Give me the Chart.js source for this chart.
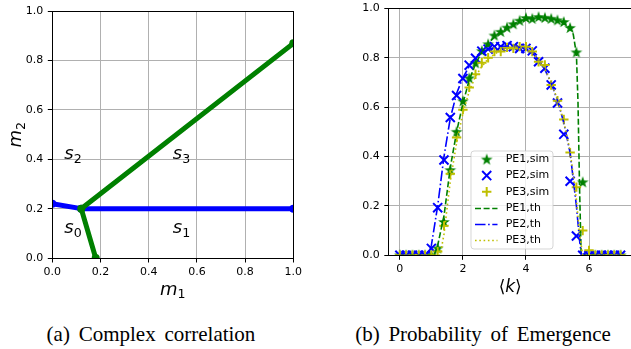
<!DOCTYPE html>
<html lang="en">
<head>
<meta charset="UTF-8">
<title>Complex correlation / Probability of Emergence</title>
<script src="https://cdn.jsdelivr.net/npm/chart.js"></script>
<style>
  html, body { margin: 0; padding: 0; overflow: hidden; background: #fff; width: 631px; height: 349px; }
  #left { position: absolute; left: 0; top: 0; }
  #right { position: absolute; left: 330px; top: 0; }
  .caption {
    position: absolute; top: 324px; line-height: 21px;
    font-family: "Liberation Serif", "Times New Roman", serif; font-size: 21px;
    word-spacing: 3.5px; color: #000; white-space: nowrap; transform: translateX(-50%);
  }
</style>
</head>
<body>
<canvas id="left" width="320" height="300"></canvas>
<canvas id="right" width="310" height="300"></canvas>
<div class="caption" style="left:151px">(a) Complex correlation</div>
<div class="caption" style="left:483px">(b) Probability of Emergence</div>

<script>
// ---- (a) region boundaries ----
const blueM1 = [0, 0.12, 1.0];
const blueM2 = [0.22, 0.2, 0.2];
const greenM1 = [0.18, 0.12, 1.0];
const greenM2 = [0, 0.2, 0.87];
const unitTicks = [0, 0.2, 0.4, 0.6, 0.8, 1.0];
const regionNames = ['0', '1', '2', '3'];
const regionM1 = [0.05, 0.5, 0.05, 0.5];
const regionM2 = [0.1, 0.1, 0.4, 0.4];

// ---- (b) probability of emergence ----
const kSim = [0, 0.2, 0.4, 0.6, 0.8, 1.0, 1.2, 1.4, 1.6, 1.8, 2.0, 2.2, 2.4, 2.6, 2.8, 3.0, 3.2, 3.4,
              3.6, 3.8, 4.0, 4.2, 4.4, 4.6, 4.8, 5.0, 5.2, 5.4, 5.6, 5.8, 6.0, 6.2, 6.4, 6.6, 6.8, 7.0];
const pe1Sim = [0, 0, 0, 0, 0, 0, 0.028, 0.135, 0.345, 0.50, 0.624, 0.717, 0.778, 0.827, 0.855, 0.89, 0.905, 0.922,
                0.936, 0.95, 0.961, 0.958, 0.965, 0.962, 0.958, 0.952, 0.945, 0.921, 0.822, 0.296, 0, 0, 0, 0, 0, 0];
const pe2Sim = [0, 0, 0, 0, 0, 0.028, 0.193, 0.386, 0.558, 0.647, 0.716, 0.77, 0.798, 0.827, 0.835, 0.845, 0.845, 0.849,
                0.845, 0.838, 0.838, 0.828, 0.784, 0.758, 0.69, 0.617, 0.49, 0.30, 0.078, 0, 0, 0, 0, 0, 0, 0];
const pe3Sim = [0, 0, 0, 0, 0, 0, 0.015, 0.12, 0.33, 0.477, 0.59, 0.68, 0.733, 0.78, 0.80, 0.825, 0.825, 0.842,
                0.838, 0.845, 0.845, 0.825, 0.784, 0.771, 0.69, 0.626, 0.55, 0.416, 0.276, 0.10, 0.02, 0, 0, 0, 0, 0];

const kTh1 = [0, 1.0, 1.1, 1.2, 1.4, 1.6, 1.8, 2.0, 2.2, 2.4, 2.6, 2.8, 3.0, 3.2, 3.4, 3.6, 3.8, 4.0,
              4.2, 4.4, 4.6, 4.8, 5.0, 5.2, 5.4, 5.5, 5.6, 5.65, 5.7, 5.75, 7.0];
const pe1Th = [0, 0, 0.005, 0.04, 0.16, 0.355, 0.5, 0.615, 0.71, 0.775, 0.823, 0.858, 0.885, 0.905, 0.922, 0.936, 0.948, 0.956,
               0.961, 0.963, 0.963, 0.96, 0.953, 0.942, 0.922, 0.895, 0.815, 0.62, 0.27, 0, 0];
const kTh2 = [0, 0.9, 1.0, 1.2, 1.4, 1.6, 1.8, 2.0, 2.2, 2.4, 2.6, 2.8, 3.0, 3.2, 3.4, 3.6, 3.8, 4.0,
              4.2, 4.4, 4.6, 4.8, 5.0, 5.2, 5.4, 5.6, 5.7, 5.76, 7.0];
const pe2Th = [0, 0, 0.04, 0.2, 0.4, 0.555, 0.655, 0.72, 0.765, 0.798, 0.82, 0.834, 0.842, 0.847, 0.848, 0.847, 0.843, 0.836,
               0.82, 0.792, 0.752, 0.698, 0.627, 0.537, 0.415, 0.2, 0.06, 0, 0];
const kTh3 = [0, 1.25, 1.3, 1.4, 1.6, 1.8, 2.0, 2.2, 2.4, 2.6, 2.8, 3.0, 3.2, 3.4, 3.6, 3.8, 4.0,
              4.2, 4.4, 4.6, 4.8, 5.0, 5.2, 5.4, 5.6, 5.7, 5.8, 7.0];
const pe3Th = [0, 0, 0.015, 0.085, 0.3, 0.455, 0.575, 0.665, 0.725, 0.765, 0.795, 0.815, 0.83, 0.838, 0.842, 0.842, 0.836,
               0.82, 0.792, 0.754, 0.7, 0.63, 0.542, 0.422, 0.225, 0.085, 0, 0];
const kTicks = [0, 2, 4, 6];
const seriesLabels = ['PE1,sim', 'PE2,sim', 'PE3,sim', 'PE1,th', 'PE2,th', 'PE3,th'];

const GREEN = '#008000', BLUE = '#0000ff', YELLOW = '#bfbf00';
const pts = (xs, ys) => xs.map((x, i) => ({ x: x, y: ys[i] }));

Chart.defaults.font.family = '"DejaVu Sans", sans-serif';
Chart.defaults.animation = false;

// filled 5-point star like matplotlib '*'
const star = (() => {
  const c = document.createElement('canvas');
  c.width = 14; c.height = 14;
  const g = c.getContext('2d');
  g.fillStyle = GREEN;
  g.beginPath();
  for (let i = 0; i < 10; i++) {
    const r = i % 2 ? 2.4 : 6.2;
    const a = -Math.PI / 2 + i * Math.PI / 5;
    g.lineTo(7 + r * Math.cos(a), 7.3 + r * Math.sin(a));
  }
  g.closePath();
  g.fill();
  return c;
})();

function axis(min, max, ticks, fmt, fit, pad) {
  return {
    type: 'linear', min: min, max: max,
    afterBuildTicks: s => { s.ticks = ticks.map(v => ({ value: v })); },
    afterFit: fit,
    grid: { color: '#b0b0b0', lineWidth: 1, tickColor: '#000', tickLength: 4.5 },
    border: { display: false },
    ticks: { color: '#000', font: { size: 11 }, padding: pad, maxRotation: 0, autoSkip: false, callback: fmt }
  };
}

// matplotlib-like black frame around the axes
const frame = {
  id: 'frame',
  afterDatasetsDraw(chart) {
    const a = chart.chartArea, ctx = chart.ctx;
    const al = v => Math.round(v - 0.5) + 0.5;
    ctx.save();
    ctx.strokeStyle = '#000';
    ctx.lineWidth = 1;
    ctx.strokeRect(al(a.left), al(a.top), al(a.right) - al(a.left), al(a.bottom) - al(a.top));
    ctx.restore();
  }
};

function drawSub(ctx, base, sub, x, y, size, center) {
  ctx.font = 'italic ' + size + 'px "DejaVu Sans"';
  const w1 = ctx.measureText(base).width;
  ctx.font = (size * 0.7) + 'px "DejaVu Sans"';
  const w2 = ctx.measureText(sub).width;
  const x0 = center ? x - (w1 + w2) / 2 : x;
  ctx.fillStyle = '#000';
  ctx.textAlign = 'left';
  ctx.textBaseline = 'alphabetic';
  ctx.font = 'italic ' + size + 'px "DejaVu Sans"';
  ctx.fillText(base, x0, y);
  ctx.font = (size * 0.7) + 'px "DejaVu Sans"';
  ctx.fillText(sub, x0 + w1, y + size * 0.22);
}

const leftText = {
  id: 'leftText',
  afterDraw(chart) {
    const ctx = chart.ctx, a = chart.chartArea;
    const sx = chart.scales.x, sy = chart.scales.y;
    ctx.save();
    regionNames.forEach((n, i) => {
      drawSub(ctx, 's', n, sx.getPixelForValue(regionM1[i]), sy.getPixelForValue(regionM2[i]), 18, false);
    });
    drawSub(ctx, 'm', '1', (a.left + a.right) / 2, 294.5, 18, true);
    ctx.translate(20.7, (a.top + a.bottom) / 2);
    ctx.rotate(-Math.PI / 2);
    drawSub(ctx, 'm', '2', 0, 0, 18, true);
    ctx.restore();
  }
};

new Chart(document.getElementById('left'), {
  type: 'line',
  data: {
    datasets: [
      { data: pts(blueM1, blueM2), borderColor: BLUE, backgroundColor: BLUE, order: 1 },
      { data: pts(greenM1, greenM2), borderColor: GREEN, backgroundColor: GREEN, order: 0 }
    ]
  },
  options: {
    responsive: false,
    events: [],
    layout: { padding: { left: 0, top: 11.3, right: 26.7, bottom: 0 } },
    elements: {
      line: { borderWidth: 5, tension: 0, borderJoinStyle: 'round' },
      point: { radius: 4, borderWidth: 0, hoverRadius: 4 }
    },
    datasets: { line: { clip: 0 } },
    scales: {
      x: axis(0, 1, unitTicks, v => v.toFixed(1), s => { s.height = 42; s.paddingLeft = 0; s.paddingRight = 0; }, 3),
      y: axis(0, 1, unitTicks, v => v.toFixed(1), s => { s.width = 52.3; s.paddingTop = 0; s.paddingBottom = 0; }, 4.5)
    },
    plugins: { legend: { display: false }, tooltip: { enabled: false } }
  },
  plugins: [frame, leftText]
});

const legendBox = {
  id: 'legendBox',
  afterDraw(chart) {
    const ctx = chart.ctx;
    const x = 141, y = 151, w = 82, h = 98, r = 3;
    ctx.save();
    ctx.beginPath();
    ctx.moveTo(x + r, y);
    ctx.arcTo(x + w, y, x + w, y + h, r);
    ctx.arcTo(x + w, y + h, x, y + h, r);
    ctx.arcTo(x, y + h, x, y, r);
    ctx.arcTo(x, y, x + w, y, r);
    ctx.closePath();
    ctx.fillStyle = 'rgba(255,255,255,0.8)';
    ctx.fill();
    ctx.strokeStyle = 'rgba(204,204,204,0.8)';
    ctx.lineWidth = 1;
    ctx.stroke();
    chart.data.datasets.forEach((ds, i) => {
      const cy = 159.5 + i * 16.1;
      if (ds.showLine === false) {
        ctx.strokeStyle = ds.borderColor;
        ctx.fillStyle = ds.borderColor;
        ctx.lineWidth = ds.pointBorderWidth;
        ctx.setLineDash([]);
        Chart.helpers.drawPoint(ctx, { pointStyle: ds.pointStyle, rotation: 0, radius: ds.pointRadius, borderWidth: ds.pointBorderWidth }, 156.7, cy);
      } else {
        ctx.beginPath();
        ctx.strokeStyle = ds.borderColor;
        ctx.lineWidth = ds.borderWidth;
        ctx.setLineDash(ds.borderDash);
        ctx.moveTo(145, Math.round(cy) + 0.5);
        ctx.lineTo(167.5, Math.round(cy) + 0.5);
        ctx.stroke();
      }
      ctx.setLineDash([]);
      ctx.fillStyle = '#000';
      ctx.font = '11px "DejaVu Sans"';
      ctx.textAlign = 'left';
      ctx.textBaseline = 'middle';
      ctx.fillText(ds.label, 175.7, cy);
    });
    ctx.restore();
  }
};

const rightText = {
  id: 'rightText',
  afterDraw(chart) {
    const ctx = chart.ctx, a = chart.chartArea;
    const cx = (a.left + a.right) / 2, base = 292;
    ctx.save();
    ctx.fillStyle = '#000';
    ctx.textBaseline = 'alphabetic';
    ctx.textAlign = 'left';
    ctx.font = '17px "DejaVu Sans"';
    const wl = ctx.measureText('\u27E8').width;
    ctx.font = 'italic 17px "DejaVu Sans"';
    const wk = ctx.measureText('k').width;
    const x0 = cx - (wl * 2 + wk) / 2;
    ctx.font = '17px "DejaVu Sans"';
    ctx.fillText('\u27E8', x0, base);
    ctx.fillText('\u27E9', x0 + wl + wk, base);
    ctx.font = 'italic 17px "DejaVu Sans"';
    ctx.fillText('k', x0 + wl, base);
    ctx.restore();
  }
};

const simSet = (label, ys, color, style, radius, order) => ({
  label: label, data: pts(kSim, ys), showLine: false, borderColor: color, backgroundColor: color,
  pointStyle: style, pointRadius: radius, pointBorderWidth: 2, pointBorderColor: color, pointBackgroundColor: color, order: order
});
const thSet = (label, xs, ys, color, dash, order) => ({
  label: label, data: pts(xs, ys), borderColor: color, borderWidth: 1.6, borderDash: dash, pointRadius: 0, order: order
});

new Chart(document.getElementById('right'), {
  type: 'line',
  data: {
    datasets: [
      simSet(seriesLabels[0], pe1Sim, GREEN, star, 6, 5),
      simSet(seriesLabels[1], pe2Sim, BLUE, 'crossRot', 6.4, 4),
      simSet(seriesLabels[2], pe3Sim, YELLOW, 'cross', 4.7, 3),
      thSet(seriesLabels[3], kTh1, pe1Th, GREEN, [6, 2.6], 2),
      thSet(seriesLabels[4], kTh2, pe2Th, BLUE, [10.5, 2.6, 1.6, 2.6], 1),
      thSet(seriesLabels[5], kTh3, pe3Th, YELLOW, [1.6, 2.7], 0)
    ]
  },
  options: {
    responsive: false,
    events: [],
    layout: { padding: { left: 0, top: 6.3, right: 4.8, bottom: 0 } },
    elements: { line: { tension: 0 } },
    datasets: { line: { clip: 0 } },
    scales: {
      x: axis(-0.35, 7.35, kTicks, v => String(v), s => { s.height = 44.7; s.paddingLeft = 0; s.paddingRight = 0; }, 3),
      y: axis(0, 1, unitTicks, v => v.toFixed(1), s => { s.width = 58.8; s.paddingTop = 0; s.paddingBottom = 0; }, 4.5)
    },
    plugins: { legend: { display: false }, tooltip: { enabled: false } }
  },
  plugins: [frame, legendBox, rightText]
});
</script>
</body>
</html>
